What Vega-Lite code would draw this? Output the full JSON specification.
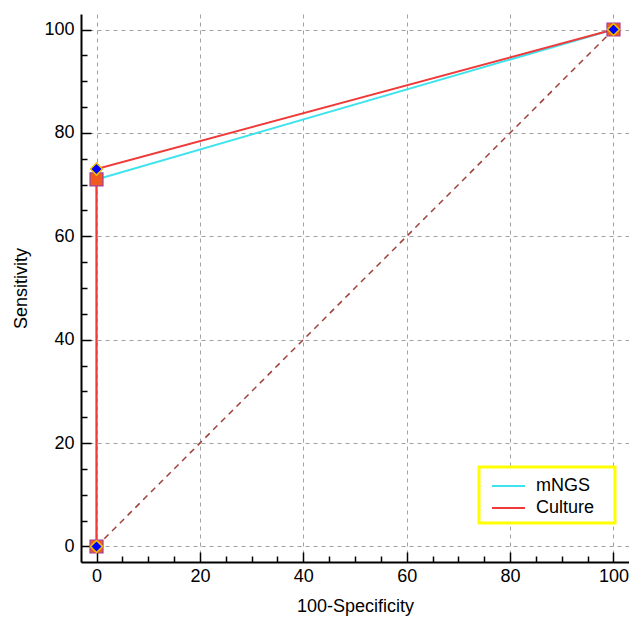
{
  "$schema": "https://vega.github.io/schema/vega-lite/v6.json",
  "width": 548,
  "height": 548,
  "autosize": {"type": "none"},
  "padding": {"left": 81, "top": 14, "right": 0, "bottom": 57},
  "background": "white",
  "config": {
    "view": {"stroke": null},
    "font": "Liberation Sans",
    "axis": {
      "domainColor": "#000000",
      "domainWidth": 2,
      "tickColor": "#000000",
      "tickWidth": 1.5,
      "labelFont": "Liberation Sans",
      "labelFontSize": 18,
      "labelColor": "#000000",
      "titleFont": "Liberation Sans",
      "titleFontSize": 18,
      "titleFontWeight": "normal",
      "titleColor": "#000000",
      "gridDash": [4, 4],
      "gridWidth": 1
    }
  },
  "datasets": {
    "roc": [
      {"series": "mNGS", "fpr": 0, "sens": 0, "ord": 0},
      {"series": "mNGS", "fpr": 0, "sens": 71, "ord": 1},
      {"series": "mNGS", "fpr": 100, "sens": 100, "ord": 2},
      {"series": "Culture", "fpr": 0, "sens": 0, "ord": 0},
      {"series": "Culture", "fpr": 0, "sens": 73, "ord": 1},
      {"series": "Culture", "fpr": 100, "sens": 100, "ord": 2}
    ],
    "diag": [
      {"fpr": 0, "sens": 0},
      {"fpr": 100, "sens": 100}
    ]
  },
  "encoding": {
    "x": {
      "field": "fpr", "type": "quantitative",
      "scale": {"domain": [-3, 103], "nice": false, "zero": false},
      "axis": {
        "title": "100-Specificity",
        "values": [0,5,10,15,20,25,30,35,40,45,50,55,60,65,70,75,80,85,90,95,100],
        "labelExpr": "datum.value % 20 === 0 ? datum.label : ''",
        "tickSize": {"condition": {"test": "datum.value % 20 === 0", "value": -10}, "value": -6},
        "gridColor": {"condition": {"test": "datum.value % 20 === 0", "value": "#a0a0a0"}, "value": "transparent"},
        "labelFontSize": 18,
        "titleFontSize": 18,
        "labelPadding": 15,
        "titlePadding": 12,
        "labelFlush": false
      }
    },
    "y": {
      "field": "sens", "type": "quantitative",
      "scale": {"domain": [-3, 103], "nice": false, "zero": false},
      "axis": {
        "title": "Sensitivity",
        "values": [0,5,10,15,20,25,30,35,40,45,50,55,60,65,70,75,80,85,90,95,100],
        "labelExpr": "datum.value % 20 === 0 ? datum.label : ''",
        "tickSize": {"condition": {"test": "datum.value % 20 === 0", "value": -10}, "value": -6},
        "gridColor": {"condition": {"test": "datum.value % 20 === 0", "value": "#a0a0a0"}, "value": "transparent"},
        "labelFontSize": 18,
        "titleFontSize": 18,
        "labelPadding": 17,
        "titlePadding": 13,
        "labelFlush": false
      }
    }
  },
  "layer": [
    {
      "data": {"name": "diag"},
      "mark": {"type": "line", "color": "#a0403a", "strokeDash": [6, 5], "strokeWidth": 1.5},
      "encoding": {}
    },
    {
      "data": {"name": "roc"},
      "transform": [{"filter": "datum.series === 'mNGS'"}],
      "mark": {"type": "line", "strokeWidth": 2},
      "encoding": {
        "order": {"field": "ord"},
        "color": {
          "field": "series", "type": "nominal",
          "scale": {"domain": ["mNGS", "Culture"], "range": ["#3fe3ee", "#f03a3a"]},
          "legend": {
            "title": "M",
            "titleOrient": "right",
            "titleFontSize": 12,
            "titlePadding": 5,
            "titleOpacity": 0,
            "orient": "none",
            "legendX": 398,
            "legendY": 453,
            "symbolType": "M-0.5,0H2.25",
            "symbolSize": 576,
            "symbolStrokeWidth": 2,
            "labelFontSize": 18,
            "labelFont": "Liberation Sans",
            "labelColor": "#000000",
            "labelOffset": 25,
            "rowPadding": 0,
            "padding": 6,
            "strokeColor": "#ffff00",
            "fillColor": "#ffffff",
            "cornerRadius": 0,
            "encode": {"legend": {"update": {"strokeWidth": {"value": 3}}}}
          }
        }
      }
    },
    {
      "data": {"name": "roc"},
      "transform": [{"filter": "datum.series === 'Culture'"}],
      "mark": {"type": "line", "strokeWidth": 2},
      "encoding": {
        "order": {"field": "ord"},
        "color": {"field": "series", "type": "nominal"}
      }
    },
    {
      "data": {"name": "roc"},
      "transform": [{"filter": "datum.series === 'mNGS'"}],
      "mark": {"type": "point", "shape": "square", "filled": true, "fill": "#f05a1e", "stroke": "#a040a0", "strokeWidth": 1.2, "size": 169, "opacity": 1}
    },
    {
      "data": {"name": "roc"},
      "transform": [{"filter": "datum.series === 'Culture'"}],
      "mark": {"type": "point", "shape": "diamond", "filled": true, "fill": "#0000ff", "stroke": "#f0c000", "strokeWidth": 1.5, "size": 144, "opacity": 1}
    }
  ]
}
